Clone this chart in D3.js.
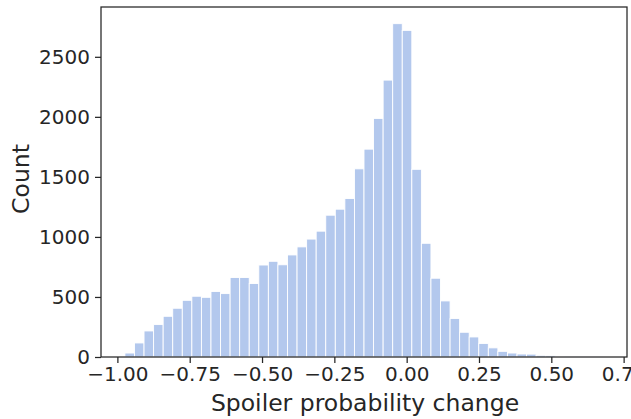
<!DOCTYPE html>
<html>
<head>
<meta charset="utf-8">
<script src="https://cdn.jsdelivr.net/npm/d3@7"></script>
<style>
  html, body { margin: 0; padding: 0; background: #fff; }
  text { font-family: "DejaVu Sans", sans-serif; fill: #262626; }
</style>
</head>
<body>
<svg id="chart" width="631" height="419"></svg>
<script>
// ---- data ----
const binStart = -0.974;
const binWidth = 0.03306;
const counts = [33, 117, 217, 270, 339, 406, 472, 506, 497, 546,
                528, 662, 662, 612, 766, 797, 768, 850, 917, 982,
                1048, 1181, 1231, 1320, 1567, 1731, 1987, 2306, 2776, 2720,
                1563, 947, 656, 467, 320, 206, 167, 113, 76, 47,
                33, 25, 24, 14, 13, 4, 3, 2, 1, 1];
const xTicks = [-1.0, -0.75, -0.5, -0.25, 0.0, 0.25, 0.5, 0.75];
const yTicks = [0, 500, 1000, 1500, 2000, 2500];
const xLabel = "Spoiler probability change";
const yLabel = "Count";

// ---- layout ----
const W = 631, H = 419;
const m = {left: 101, right: 4, top: 7, bottom: 62};
const iw = W - m.left - m.right, ih = H - m.top - m.bottom;

const bins = counts.map((c, i) => ({x0: binStart + i * binWidth, x1: binStart + (i + 1) * binWidth, n: c}));
const dataMin = bins[0].x0, dataMax = bins[bins.length - 1].x1;
const pad = (dataMax - dataMin) * 0.05;

const x = d3.scaleLinear().domain([dataMin - pad, dataMax + pad]).range([0, iw]);
const y = d3.scaleLinear().domain([0, d3.max(counts) * 1.05]).range([ih, 0]);

const svg = d3.select("#chart");
const g = svg.append("g").attr("transform", `translate(${m.left},${m.top})`);

// bars
g.selectAll("rect.bar").data(bins).join("rect")
  .attr("class", "bar")
  .attr("x", d => x(d.x0))
  .attr("width", d => x(d.x1) - x(d.x0))
  .attr("y", d => y(d.n))
  .attr("height", d => y(0) - y(d.n))
  .attr("fill", "rgb(179,200,237)")
  .attr("stroke", "#ffffff")
  .attr("stroke-width", 0.9);

const fmtX = v => d3.format(".2f")(v).replace("-", "\u2212");

// x axis
const xAxis = g.append("g").attr("transform", `translate(0,${ih})`)
  .call(d3.axisBottom(x).tickValues(xTicks).tickFormat(fmtX).tickSize(6).tickSizeOuter(0).tickPadding(4));
// y axis
const yAxis = g.append("g")
  .call(d3.axisLeft(y).tickValues(yTicks).tickFormat(d3.format("d")).tickSize(6).tickSizeOuter(0).tickPadding(5));

[xAxis, yAxis].forEach(a => {
  a.select(".domain").remove();
  a.selectAll(".tick line").attr("stroke", "#262626").attr("stroke-width", 1.25);
  a.selectAll(".tick text").attr("fill", "#262626").style("font-size", "20px").style("font-family", "DejaVu Sans");
});

// frame (all four spines)
g.append("rect").attr("x", 0).attr("y", 0).attr("width", iw).attr("height", ih)
  .attr("fill", "none").attr("stroke", "#262626").attr("stroke-width", 1.25);

// labels
svg.append("text")
  .attr("x", m.left + iw / 2 + 1).attr("y", 411)
  .attr("text-anchor", "middle").style("font-size", "23.5px")
  .text(xLabel);
svg.append("text")
  .attr("transform", `translate(29,${m.top + ih / 2 - 3}) rotate(-90)`)
  .attr("text-anchor", "middle").style("font-size", "23.5px")
  .text(yLabel);
</script>
</body>
</html>
